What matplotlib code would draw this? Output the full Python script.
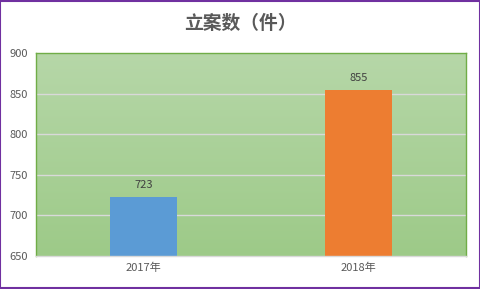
import matplotlib
matplotlib.use("Agg")
import matplotlib.pyplot as plt
import numpy as np
from matplotlib.colors import LinearSegmentedColormap

plt.rcParams['font.family'] = ['Noto Sans CJK SC', 'DejaVu Sans']

categories = ["2017年", "2018年"]
values = [723, 855]
colors = ["#5B9BD5", "#ED7D31"]
title = "立案数（件）"
yticks = [650, 700, 750, 800, 850, 900]

fig = plt.figure(figsize=(4.81, 2.89), dpi=100)
fig.patch.set_facecolor("white")
ax = fig.add_axes([36/481, 33/289, 430/481, 203/289])

x = np.arange(len(categories))
ax.set_xlim(-0.5, len(categories) - 0.5)
ax.set_ylim(650, 900)

cmap = LinearSegmentedColormap.from_list("g", ["#9DCA88", "#B6D7A8"])
grad = np.linspace(0, 1, 256).reshape(-1, 1)
ax.imshow(grad, aspect="auto", cmap=cmap, origin="lower",
          extent=[-0.5, len(categories) - 0.5, 650, 900], zorder=0)

ax.set_yticks(yticks)
for yv in yticks[1:-1]:
    ax.axhline(yv, color="#D9D9D9", lw=1, zorder=1)

bars = ax.bar(x, values, width=0.31, color=colors, zorder=2)
for xi, v in zip(x, values):
    ax.text(xi, v + 8, str(v), ha="center", va="bottom", fontsize=8, color="#404040", zorder=3)

ax.set_xticks(x)
ax.set_xticklabels(categories)
ax.tick_params(axis="both", length=0, labelsize=8, colors="#595959")
ax.tick_params(axis="x", pad=5)
ax.tick_params(axis="y", pad=6)

for s in ["left", "top", "right"]:
    ax.spines[s].set_color("#70AD47")
    ax.spines[s].set_linewidth(1)
ax.spines["bottom"].set_color("#D9D9D9")
ax.spines["bottom"].set_linewidth(1)

fig.text(0.5, 1 - 23/289, title, ha="center", va="center", fontsize=13.5,
         fontweight="bold", color="#595959")

# outer border
fig.add_artist(plt.Rectangle((0.001, 0.002), 0.997, 0.996, transform=fig.transFigure,
                             fill=False, edgecolor="#7030A0", lw=1.5))

fig.savefig("out.png", dpi=100)
